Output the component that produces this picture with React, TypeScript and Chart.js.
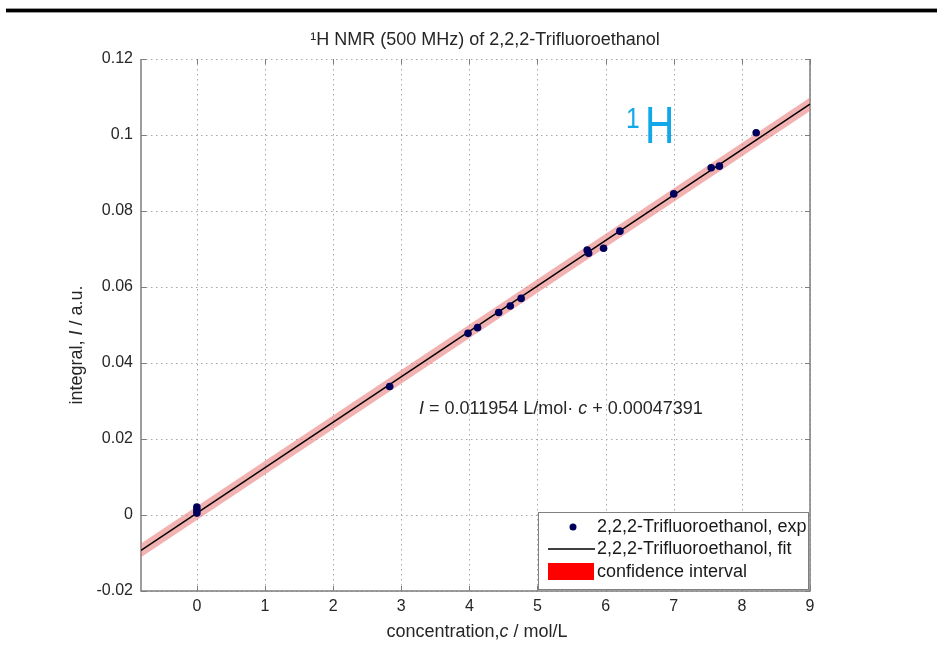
import React, { useEffect, useRef } from "react";
import { Chart, registerables } from "chart.js";

Chart.register(...registerables);

// ---- data ----
const expC = [0, 0, 0, 2.83, 3.98, 4.12, 4.43, 4.6, 4.76, 5.73, 5.75, 5.97, 6.21, 7.0, 7.55, 7.67, 8.21];
const expI = [0.0005, 0.0013, 0.0021, 0.0338, 0.0478, 0.0493, 0.0533, 0.055, 0.057, 0.0697, 0.0689, 0.0702, 0.0747, 0.0845, 0.0914, 0.0918, 0.1006];
const fitC = [-0.82, 9];
const fitI = [-0.0093, 0.1081];
const bandUpper = [-0.0075, 0.1099];
const bandLower = [-0.0111, 0.1063];
const xTicks = [0, 1, 2, 3, 4, 5, 6, 7, 8, 9];
const xTickLabels = ["0", "1", "2", "3", "4", "5", "6", "7", "8", "9"];
const yTicks = [-0.02, 0, 0.02, 0.04, 0.06, 0.08, 0.1, 0.12];
const yTickLabels = ["-0.02", "0", "0.02", "0.04", "0.06", "0.08", "0.1", "0.12"];

const titleText = "\u00B9H NMR (500 MHz) of 2,2,2-Trifluoroethanol";
const legendLabels = ["2,2,2-Trifluoroethanol, exp", "2,2,2-Trifluoroethanol, fit", "confidence interval"];

const FONT = "'Liberation Sans', Arial, sans-serif";
const TXT = "#262626";

function drawRich(ctx: CanvasRenderingContext2D, parts: [string, boolean][], x: number, y: number, size: number, align: "left" | "center") {
  let total = 0;
  const widths = parts.map(([t, it]) => {
    ctx.font = `${it ? "italic " : ""}${size}px ${FONT}`;
    const w = ctx.measureText(t).width;
    total += w;
    return w;
  });
  let cx = align === "center" ? x - total / 2 : x;
  ctx.textAlign = "left";
  parts.forEach(([t, it], i) => {
    ctx.font = `${it ? "italic " : ""}${size}px ${FONT}`;
    ctx.fillText(t, cx, y);
    cx += widths[i];
  });
}

const decorPlugin = {
  id: "decor",
  beforeDatasetsDraw(chart: any) {
    const { ctx, chartArea: a, scales } = chart;
    const xs = scales.x, ys = scales.y;
    ctx.save();
    // dotted grid
    ctx.strokeStyle = "#a8a8a8";
    ctx.lineWidth = 1;
    ctx.setLineDash([1.5, 3.5]);
    xTicks.forEach((v) => {
      const px = Math.round(xs.getPixelForValue(v)) + 0.5;
      ctx.beginPath();
      ctx.moveTo(px, a.top);
      ctx.lineTo(px, a.bottom);
      ctx.stroke();
    });
    yTicks.forEach((v) => {
      const py = Math.round(ys.getPixelForValue(v)) + 0.5;
      ctx.beginPath();
      ctx.moveTo(a.left, py);
      ctx.lineTo(a.right, py);
      ctx.stroke();
    });
    ctx.setLineDash([]);
    // box (left, bottom, right solid)
    ctx.strokeStyle = "#7d7d7d";
    ctx.lineWidth = 1.5;
    ctx.beginPath();
    ctx.moveTo(a.left, a.top);
    ctx.lineTo(a.left, a.bottom);
    ctx.lineTo(a.right, a.bottom);
    ctx.lineTo(a.right, a.top);
    ctx.stroke();
    // inward tick marks
    ctx.lineWidth = 1;
    xTicks.forEach((v) => {
      const px = Math.round(xs.getPixelForValue(v)) + 0.5;
      ctx.beginPath();
      ctx.moveTo(px, a.bottom);
      ctx.lineTo(px, a.bottom - 5);
      ctx.moveTo(px, a.top);
      ctx.lineTo(px, a.top + 5);
      ctx.stroke();
    });
    yTicks.forEach((v) => {
      const py = Math.round(ys.getPixelForValue(v)) + 0.5;
      ctx.beginPath();
      ctx.moveTo(a.left, py);
      ctx.lineTo(a.left + 5, py);
      ctx.moveTo(a.right, py);
      ctx.lineTo(a.right - 5, py);
      ctx.stroke();
    });
    ctx.restore();
  },
  afterDatasetsDraw(chart: any) {
    const { ctx, chartArea: a } = chart;
    ctx.save();
    ctx.fillStyle = TXT;
    ctx.textBaseline = "middle";

    // title
    ctx.font = `18px ${FONT}`;
    ctx.textAlign = "center";
    ctx.fillText(titleText, 485, 40);

    // equation
    drawRich(ctx, [["I", true], [" = 0.011954 L/mol\u00B7 ", false], ["c", true], [" + 0.00047391", false]], 419, 409, 18, "left");

    // x axis label
    drawRich(ctx, [["concentration,", false], ["c", true], [" / mol/L", false]], 477, 632, 18, "center");

    // y axis label
    ctx.save();
    ctx.translate(77, 345);
    ctx.rotate(-Math.PI / 2);
    drawRich(ctx, [["integral, ", false], ["I", true], [" / a.u.", false]], 0, 0, 18, "center");
    ctx.restore();

    // 1H label
    ctx.fillStyle = "#10a8e8";
    ctx.textBaseline = "alphabetic";
    ctx.textAlign = "left";
    ctx.save();
    ctx.translate(626, 128);
    ctx.scale(0.85, 1);
    ctx.font = `29px ${FONT}`;
    ctx.fillText("1", 0, 0);
    ctx.restore();
    ctx.save();
    ctx.translate(645, 143);
    ctx.scale(0.78, 1);
    ctx.font = `52px ${FONT}`;
    ctx.fillText("H", 0, 0);
    ctx.restore();

    // legend
    const lx = 538, ly = 512, lw = 270, lh = 77;
    ctx.fillStyle = "#ffffff";
    ctx.fillRect(lx, ly, lw, lh);
    ctx.strokeStyle = "#808080";
    ctx.lineWidth = 1;
    ctx.strokeRect(lx + 0.5, ly + 0.5, lw, lh);
    const rows = [527, 549, 572];
    ctx.fillStyle = "#00005c";
    ctx.beginPath();
    ctx.arc(573, rows[0], 3.5, 0, Math.PI * 2);
    ctx.fill();
    ctx.strokeStyle = "#000000";
    ctx.lineWidth = 1.5;
    ctx.beginPath();
    ctx.moveTo(548, rows[1]);
    ctx.lineTo(595, rows[1]);
    ctx.stroke();
    ctx.fillStyle = "#ff0000";
    ctx.fillRect(548, rows[2] - 9, 46, 17);
    ctx.fillStyle = "#1a1a1a";
    ctx.font = `18px ${FONT}`;
    ctx.textBaseline = "middle";
    legendLabels.forEach((t, i) => ctx.fillText(t, 597, rows[i]));

    // top rule
    ctx.fillStyle = "#9a9a9a";
    ctx.fillRect(6, 8, 931, 5);
    ctx.fillStyle = "#000000";
    ctx.fillRect(6, 9, 931, 3);
    ctx.restore();
  },
};

export default function App() {
  const ref = useRef<HTMLCanvasElement | null>(null);
  useEffect(() => {
    document.body.style.margin = "0";
    const canvas = ref.current!;
    const chart = new Chart(canvas, {
      type: "line",
      data: {
        datasets: [
          {
            label: legendLabels[0],
            data: expC.map((c, i) => ({ x: c, y: expI[i] })),
            showLine: false,
            pointRadius: 3.8,
            pointBackgroundColor: "#00005c",
            pointBorderColor: "#00005c",
            pointBorderWidth: 0,
          },
          {
            label: legendLabels[1],
            data: fitC.map((c, i) => ({ x: c, y: fitI[i] })),
            borderColor: "#000000",
            borderWidth: 1.5,
            pointRadius: 0,
            fill: false,
          },
          {
            label: "upper",
            data: fitC.map((c, i) => ({ x: c, y: bandUpper[i] })),
            borderWidth: 0,
            borderColor: "rgba(0,0,0,0)",
            pointRadius: 0,
            fill: "+1",
            backgroundColor: "rgba(232,115,115,0.55)",
          },
          {
            label: legendLabels[2],
            data: fitC.map((c, i) => ({ x: c, y: bandLower[i] })),
            borderWidth: 0,
            borderColor: "rgba(0,0,0,0)",
            pointRadius: 0,
            fill: false,
          },
        ],
      },
      options: {
        animation: false,
        responsive: false,
        maintainAspectRatio: false,
        layout: { padding: { left: 0, top: 59, right: 127, bottom: 0 } },
        plugins: { legend: { display: false }, tooltip: { enabled: false }, title: { display: false } },
        scales: {
          x: {
            type: "linear",
            min: -0.82,
            max: 9,
            grid: { display: false, drawTicks: false },
            border: { display: false },
            afterBuildTicks: (s: any) => {
              s.ticks = xTicks.map((v) => ({ value: v }));
            },
            afterFit: (s: any) => {
              s.height = 67;
            },
            ticks: {
              autoSkip: false,
              maxRotation: 0,
              padding: 6,
              color: TXT,
              font: { family: FONT, size: 16 },
              callback: (v: any) => {
                const i = xTicks.indexOf(Math.round(Number(v)));
                return i >= 0 ? xTickLabels[i] : "";
              },
            },
          },
          y: {
            type: "linear",
            min: -0.02,
            max: 0.12,
            grid: { display: false, drawTicks: false },
            border: { display: false },
            afterBuildTicks: (s: any) => {
              s.ticks = yTicks.map((v) => ({ value: v }));
            },
            afterFit: (s: any) => {
              s.width = 141;
            },
            ticks: {
              autoSkip: false,
              padding: 8,
              color: TXT,
              font: { family: FONT, size: 16 },
              callback: (v: any) => {
                const i = yTicks.findIndex((t) => Math.abs(t - Number(v)) < 1e-9);
                return i >= 0 ? yTickLabels[i] : "";
              },
            },
          },
        },
      },
      plugins: [decorPlugin],
    } as any);
    return () => chart.destroy();
  }, []);
  return <canvas ref={ref} width={937} height={658} style={{ display: "block", width: 937, height: 658 }} />;
}
